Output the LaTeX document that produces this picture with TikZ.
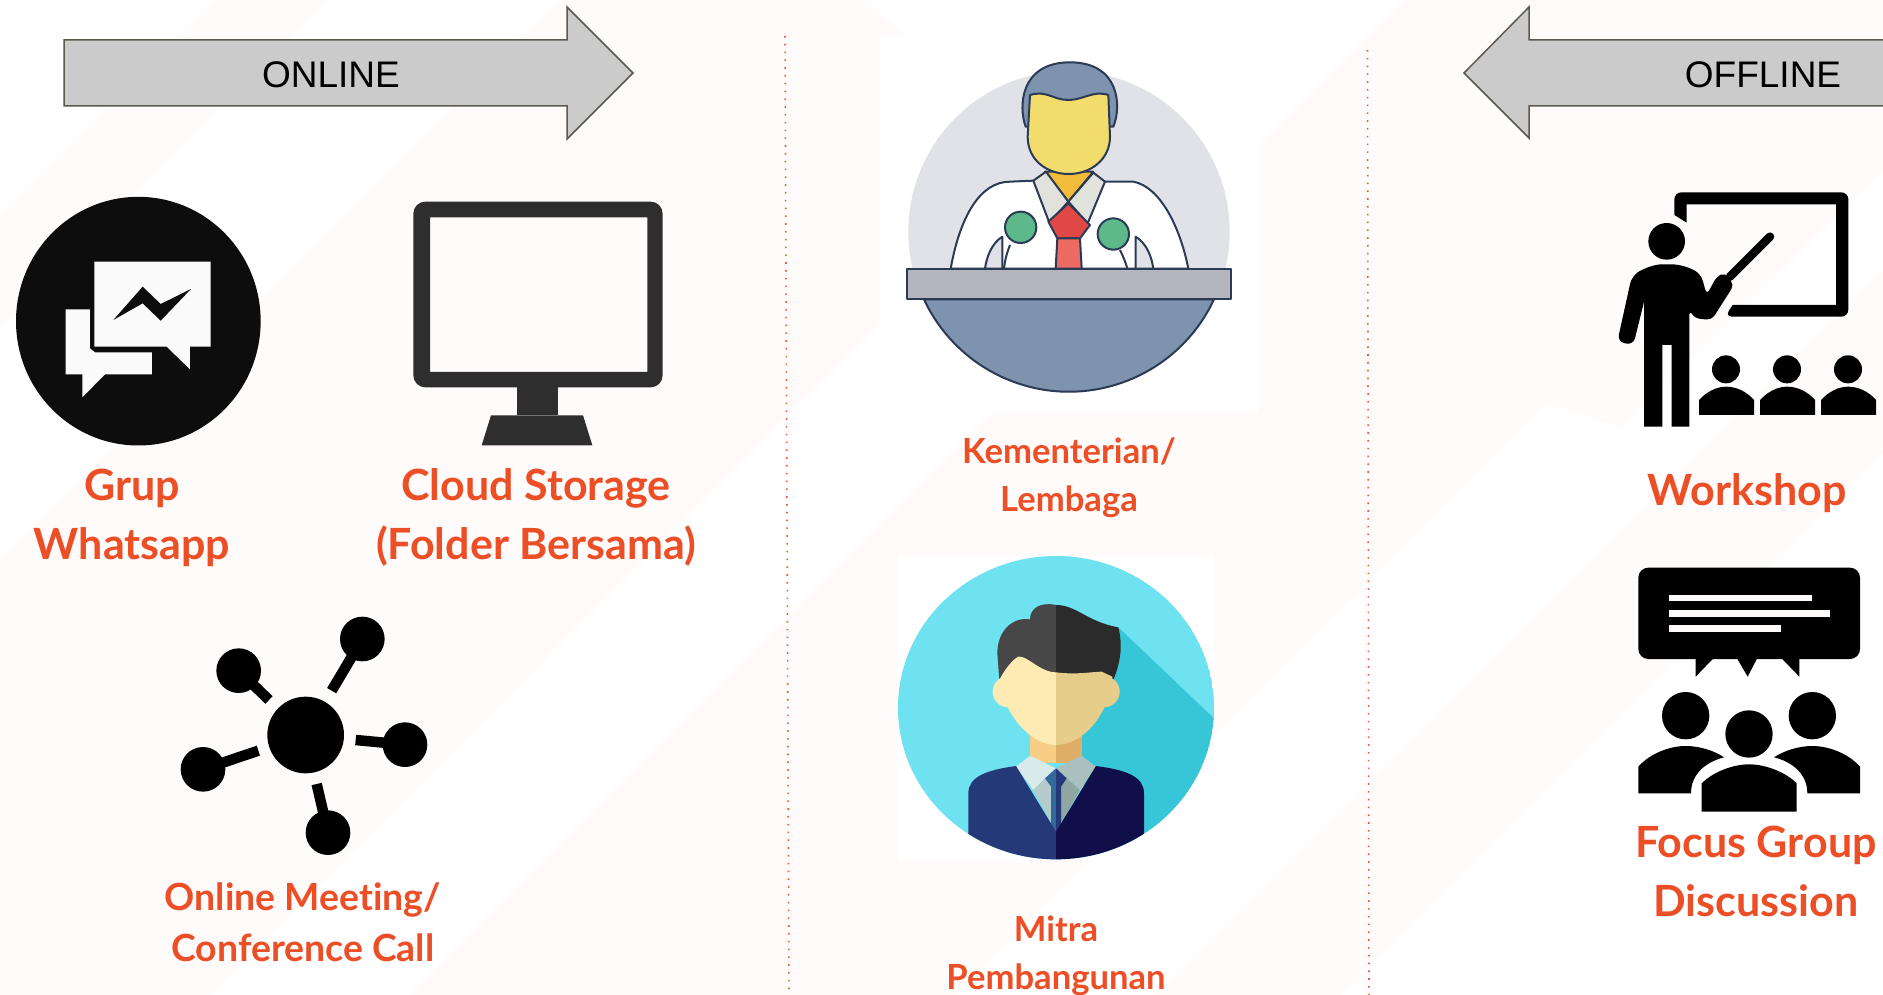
\documentclass[tikz,border=0pt]{standalone}
\usepackage{fontspec}
\setmainfont{Lato}[Ligatures=NoCommon]
\newfontfamily\arialfont{Liberation Sans}
\definecolor{palebg}{HTML}{FEFBFA}
\definecolor{labelred}{HTML}{EC4E26}
\definecolor{dotred}{HTML}{EE5A3A}
\definecolor{arrowfill}{HTML}{CBCBCB}
\definecolor{arrowline}{HTML}{5A5A50}
\definecolor{ink}{HTML}{2B3A55}
\definecolor{slate}{HTML}{7E93AE}
\definecolor{greydisc}{HTML}{E0E2E7}
\definecolor{faceyellow}{HTML}{F2DC6B}
\definecolor{neckorange}{HTML}{F0BC3A}
\definecolor{collargrey}{HTML}{E2E2DC}
\definecolor{knotred}{HTML}{E04848}
\definecolor{tiered}{HTML}{EE6B63}
\definecolor{micgreen}{HTML}{5DB98A}
\definecolor{podium}{HTML}{B5B5BD}
\definecolor{skyround}{HTML}{6EE2F0}
\definecolor{skyshade}{HTML}{36C6D8}
\definecolor{hairL}{HTML}{474747}
\definecolor{hairR}{HTML}{2B2B2B}
\definecolor{skinL}{HTML}{FEEBB3}
\definecolor{skinR}{HTML}{E6CE8A}
\definecolor{neckL}{HTML}{F8CD86}
\definecolor{neckR}{HTML}{DEAE66}
\definecolor{colL}{HTML}{D8EAEA}
\definecolor{colR}{HTML}{A9C0BF}
\definecolor{shirtL}{HTML}{B5CCCC}
\definecolor{shirtR}{HTML}{8FA6A4}
\definecolor{tieL}{HTML}{34699A}
\definecolor{suitL}{HTML}{253878}
\definecolor{suitR}{HTML}{100F4A}
\tikzset{
  biglabel/.style={anchor=base,text=labelred,font=\bfseries\fontsize{43}{50}\selectfont,inner sep=0pt},
  meetlabel/.style={anchor=base,text=labelred,font=\bfseries\fontsize{37.4}{44}\selectfont,inner sep=0pt},
  midlabel/.style={anchor=base,text=labelred,font=\bfseries\fontsize{34.6}{42}\selectfont,inner sep=0pt},
  banner/.style={draw=arrowline,fill=arrowfill,line width=1.5pt,line join=miter},
  bannertext/.style={text=black,font=\arialfont\fontsize{37}{44}\selectfont,inner sep=0pt},
  divider/.style={dotred,line width=1.6pt,dash pattern=on 1.6pt off 6.2pt},
  outline/.style={draw=ink,line width=2pt,line join=round},
}
\begin{document}
\begin{tikzpicture}[x=1pt,y=-1pt]
\useasboundingbox (0,0) rectangle (1883,995);
\fill[white] (0,0) rectangle (1883,995);
\clip (0,0) rectangle (1883,995);
% pale background bands
\fill[palebg] (215,0) -- (327,0) -- (0,327) -- (0,215) -- cycle;
\fill[palebg] (560,0) -- (865,0) -- (905,35) -- (880,323) -- (210,995) -- (0,995) -- (0,560) -- cycle;
\fill[palebg] (1404,0) -- (1883,0) -- (1883,170) -- (1620,428) -- (1600,420) -- (1545,403) -- (955,995) -- (409,995) -- cycle;
\fill[palebg] (1883,270) -- (1883,452) -- (1787,550) -- (1340,995) -- (1155,995) -- cycle;
% dividers
\coordinate (d1a) at (785,36); \coordinate (d1b) at (789,995);
\coordinate (d2a) at (1367.5,50); \coordinate (d2b) at (1369,995);
\draw[divider] (d1a) -- (d1b);
\draw[divider] (d2a) -- (d2b);
% banners
\draw[banner] (64,40) -- (567,40) -- (567,7) -- (633,73) -- (567,139) -- (567,106) -- (64,106) -- cycle;
\node[bannertext] (online) at (331,74.5) {ONLINE};
\draw[banner] (1900,40) -- (1529,40) -- (1529,7) -- (1464,73) -- (1529,138) -- (1529,106) -- (1900,106) -- cycle;
\node[bannertext] (offline) at (1763,74.5) {OFFLINE};
% chat icon
\begin{scope}[shift={(0,180)},scale=1/3]
\fill[black!95] (415,423.5) ellipse[x radius=367,y radius=373];
\fill[white!98!black] (197,388) -- (270,388) -- (270,505) -- (285,517) -- (456,517) -- (456,583) -- (315,583) -- (247,652) -- (247,583) -- (197,583) -- cycle;
\fill[white!98!black] (283,245) -- (632,245) -- (632,500) -- (570,500) -- (570,568) -- (500,500) -- (283,500) -- cycle;
\fill[black!95] (340,420) -- (428,320) -- (482,372) -- (573,327) -- (482,422) -- (428,370) -- cycle;
\end{scope}
% monitor icon
\begin{scope}[shift={(380,180)},scale=1/3]
\fill[black!82,even odd rule,rounded corners=12pt] (100,65) rectangle (848,622) [sharp corners] (150,112) rectangle (802,576);
\fill[black!82] (411,610) rectangle (533,706);
\fill[black!82] (333,706) -- (609,706) -- (637,796) -- (305,796) -- cycle;
\end{scope}
% network icon
\begin{scope}[shift={(160,600)},scale=1/3]
\fill[black] (437,405) circle[radius=115];
\foreach \px/\py/\qx/\qy in {607/117/515/272,236/212/327/300,735/434/587/420,129/508/295/452,504/698/470/552}{
  \fill[black] (\px,\py) circle[radius=67];
  \draw[black,line width=10.5pt] (\px,\py) -- (\qx,\qy);
}
\end{scope}
% speaker picture
\fill[white] (880,36) rectangle (1258,412);
\begin{scope}[shift={(860,30)},scale=1/3]
\fill[greydisc] (627,605) circle[radius=482];
\path[fill=slate,outline] (1062,808) arc[start angle=25,end angle=155,radius=480] -- cycle;
\path[fill=white,outline] (272,716) .. controls (300,560) and (360,455) .. (450,455) -- (520,452) -- (735,455) -- (820,455) .. controls (900,470) and (960,590) .. (985,716) -- cycle;
\path[fill=slate,outline] (497,290) .. controls (475,230) and (480,97) .. (630,97) .. controls (780,97) and (785,230) .. (760,290) -- cycle;
\path[fill=neckorange,outline] (555,425) -- (700,425) -- (625,515) -- cycle;
\path[fill=collargrey,outline] (520,452) -- (558,425) -- (625,515) -- (568,578) -- cycle;
\path[fill=collargrey,outline] (735,455) -- (700,428) -- (625,515) -- (683,580) -- cycle;
\path[fill=knotred,outline] (625,520) -- (690,585) -- (660,625) -- (592,625) -- (565,575) -- cycle;
\path[fill=tiered,outline] (592,625) -- (660,625) -- (665,716) -- (587,716) -- cycle;
\path[fill=faceyellow,outline] (510,195) .. controls (560,180) and (580,210) .. (625,210) .. controls (670,210) and (700,180) .. (745,195) -- (750,320) .. controls (750,390) and (690,432) .. (627,432) .. controls (560,432) and (503,390) .. (503,320) -- cycle;
\path[outline] (450,645) .. controls (440,670) and (435,690) .. (432,716);
\path[outline] (780,660) .. controls (790,680) and (798,700) .. (802,716);
\path[fill=micgreen,outline] (482,592) circle[radius=47];
\path[fill=micgreen,outline] (760,612) circle[radius=47];
\path[fill=greydisc,outline] (427,620) .. controls (395,640) and (380,680) .. (375,716) -- (427,716) -- cycle;
\path[fill=greydisc,outline] (827,620) .. controls (860,640) and (875,680) .. (880,716) -- (827,716) -- cycle;
\path[fill=podium,outline] (140,716) rectangle (1113,808);
\end{scope}
% person picture
\fill[white] (898,556) rectangle (1214,860);
\begin{scope}[shift={(880,540)},scale=1/3]
\begin{scope}
\clip (528,503) ellipse[x radius=474,y radius=455];
\fill[skyround] (528,503) ellipse[x radius=474,y radius=455];
\fill[skyshade] (715,262) -- (1010,543) -- (1010,1000) -- (640,1000) -- (600,600) -- cycle;
\fill[hairL] (528,195) .. controls (480,185) and (450,205) .. (450,238) .. controls (400,230) and (352,270) .. (352,340) -- (358,420) -- (528,430) -- cycle;
\fill[hairR] (528,195) .. controls (590,195) and (620,245) .. (715,262) .. controls (730,320) and (720,370) .. (700,420) -- (528,430) -- cycle;
\fill[skinL] (385,455) circle[radius=47];
\fill[skinR] (672,455) circle[radius=47];
\fill[neckL] (450,560) rectangle (528,670);
\fill[neckR] (528,560) rectangle (607,670);
\fill[skinL] (528,397) .. controls (480,397) and (440,345) .. (415,350) .. controls (395,360) and (370,395) .. (358,420) .. controls (370,520) and (450,615) .. (528,615) -- cycle;
\fill[skinR] (528,397) .. controls (590,405) and (640,395) .. (665,395) -- (697,410) .. controls (690,520) and (610,615) .. (528,615) -- cycle;
\fill[colL] (408,680) -- (450,647) -- (528,685) -- (495,715) -- (460,750) -- cycle;
\fill[colR] (648,680) -- (605,647) -- (528,685) -- (560,715) -- (600,750) -- cycle;
\fill[shirtL] (460,750) -- (495,715) -- (528,740) -- (528,875) -- cycle;
\fill[shirtR] (600,750) -- (560,715) -- (528,740) -- (528,875) -- cycle;
\fill[tieL] (528,685) -- (495,715) -- (513,740) -- (513,860) -- (528,875) -- cycle;
\fill[suitL] (528,685) -- (560,715) -- (543,740) -- (543,860) -- (528,875) -- cycle;
\fill[suitL] (265,880) -- (265,760) .. controls (265,710) and (320,690) .. (408,678) -- (528,875) -- (528,1000) -- (200,1000) -- cycle;
\fill[suitR] (792,880) -- (792,760) .. controls (792,710) and (740,690) .. (648,678) -- (528,875) -- (528,1000) -- (860,1000) -- cycle;
\end{scope}
\end{scope}
% workshop icon
\begin{scope}[shift={(1600,170)},scale=1/3]
\fill[black,rounded corners=7pt] (223,135) -- (223,67) -- (745,67) -- (745,440) -- (375,440) [sharp corners] -- (398,405) -- (708,405) -- (708,103) -- (260,103) -- (260,158) -- cycle;
\fill[black] (200,214) circle[radius=55];
\draw[black,line width=8.5pt,line cap=round] (510,200) -- (390,320);
\fill[black,rounded corners=5pt] (95,320) .. controls (130,295) and (165,283) .. (200,283) .. controls (240,283) and (280,295) .. (305,320) -- (320,375) -- (350,320) -- (375,308) -- (402,345) -- (335,450) -- (285,445) -- (268,420) [sharp corners] -- (268,770) -- (215,770) -- (215,525) -- (187,525) -- (187,770) -- (132,770) -- (132,395) [rounded corners=7pt] -- (100,525) -- (52,515) -- cycle;
\foreach \dx in {0,183,366}{
  \begin{scope}[shift={(\dx,0)}]
  \fill[black] (378,598) circle[radius=42];
  \fill[black] (297,735) -- (297,690) .. controls (320,665) and (350,650) .. (378,650) .. controls (410,650) and (440,665) .. (462,690) -- (462,735) -- cycle;
  \end{scope}
}
\end{scope}
% discussion icon
\begin{scope}[shift={(1620,550)},scale=1/3]
\fill[black,rounded corners=10pt] (55,53) rectangle (720,327);
\fill[black] (227,320) -- (227,380) -- (285,320) -- cycle;
\fill[black] (348,320) -- (383,380) -- (414,320) -- cycle;
\fill[black] (480,320) -- (538,380) -- (538,320) -- cycle;
\fill[palebg] (147,135) rectangle (575,154);
\fill[palebg] (147,181) rectangle (630,200);
\fill[palebg] (147,226) rectangle (483,245);
\fill[black] (197,497) circle[radius=71];
\fill[black] (577,497) circle[radius=71];
\fill[black] (387,552) circle[radius=71];
\fill[black] (55,730) -- (55,650) .. controls (90,610) and (150,588) .. (197,588) .. controls (240,588) and (285,603) .. (312,622) .. controls (260,635) and (213,670) .. (213,730) -- cycle;
\fill[black] (720,730) -- (720,650) .. controls (685,610) and (625,588) .. (577,588) .. controls (535,588) and (490,603) .. (462,622) .. controls (515,635) and (562,670) .. (562,730) -- cycle;
\fill[black] (245,785) -- (245,700) .. controls (280,665) and (340,643) .. (387,643) .. controls (435,643) and (495,665) .. (530,700) -- (530,785) -- cycle;
\end{scope}
% labels
\node[biglabel] (grup) at (132,500) {Grup};
\node[biglabel] (whatsapp) at (132,559) {Whatsapp};
\node[biglabel] (cloud) at (536,500) {Cloud Storage};
\node[biglabel] (folder) at (536,559) {(Folder Bersama)};
\node[meetlabel] (meeting) at (303,910) {Online Meeting/};
\node[meetlabel] (conf) at (303,961) {Conference Call};
\node[midlabel] (kem) at (1069,463) {Kementerian/};
\node[midlabel] (lem) at (1069,511) {Lembaga};
\node[midlabel] (mitra) at (1056,941) {Mitra};
\node[midlabel] (pemb) at (1056,989) {Pembangunan};
\node[biglabel] (work) at (1747,505) {Workshop};
\node[biglabel] (focus) at (1756,857) {Focus Group};
\node[biglabel] (disc) at (1756,916) {Discussion};
\end{tikzpicture}
\end{document}
